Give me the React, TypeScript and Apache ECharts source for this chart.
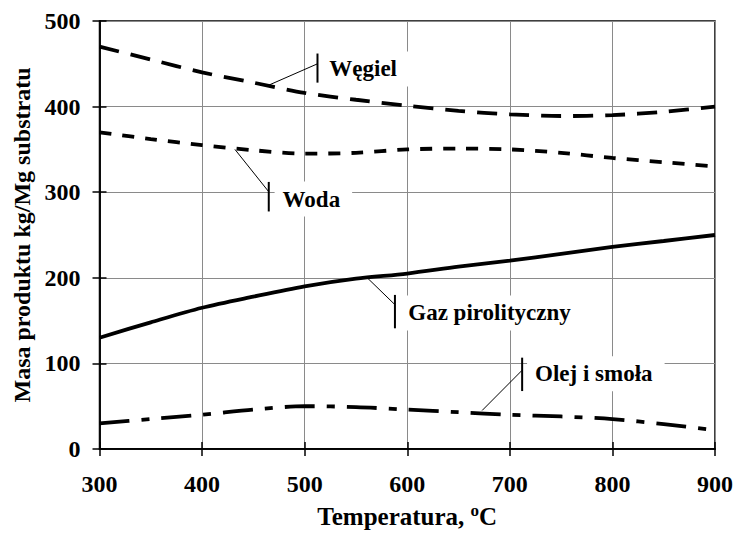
import React, { useEffect, useRef } from "react";
import * as echarts from "echarts";

const temps = [300, 350, 400, 450, 500, 550, 600, 650, 700, 750, 800, 850, 900];
const wegiel = [470, 455, 440, 428, 416, 408, 401, 395, 391, 389, 390, 394, 400];
const woda = [370, 362, 355, 349, 345, 346, 350, 351, 350, 346, 340, 335, 330];
const gaz = [130, 148, 165, 178, 190, 199, 205, 213, 220, 228, 236, 243, 250];
const olej = [30, 35, 40, 46, 50, 49, 46, 43, 40, 38, 35, 29, 22];

const xTicks = [300, 400, 500, 600, 700, 800, 900];
const yTicks = [0, 100, 200, 300, 400, 500];

// annotation anchors in data space
const annotations = [
  { text: "Węgiel", start: [463, 424], end: [512.5, 450], barTop: 462, barBot: 428, textAt: [524, 444] },
  { text: "Woda", start: [432, 350], end: [465, 300.5], barTop: 312, barBot: 277.5, textAt: [478.5, 292] },
  { text: "Gaz pirolityczny", start: [561, 200], end: [588, 168.6], barTop: 180, barBot: 141, textAt: [601, 159] },
  { text: "Olej i smoła", start: [673, 45], end: [712, 92], barTop: 106.7, barBot: 67.7, textAt: [724.6, 88] },
];

const FONT = "'Liberation Serif', 'Times New Roman', serif";

function pairs(ys: number[]) {
  return temps.map((t, i) => [t, ys[i]]);
}

export default function App() {
  const ref = useRef<HTMLDivElement>(null);
  useEffect(() => {
    if (!ref.current) return;
    const chart = echarts.init(ref.current, null, { renderer: "svg" });
    const axisCommon = {
      type: "value" as const,
      axisLine: { show: true, lineStyle: { color: "#000", width: 1.5 } },
      axisTick: { show: true, length: 7, lineStyle: { color: "#000", width: 1.5 } },
    };
    const lineBase = (name: string, data: number[], dash: number[] | "solid") => ({
      type: "line",
      name,
      data: pairs(data),
      smooth: 0.3,
      showSymbol: false,
      symbol: "none",
      lineStyle: { color: "#000", width: 3.8, type: dash, cap: "butt" },
      z: 3,
    });
    chart.setOption({
      animation: false,
      backgroundColor: "#fff",
      grid: { left: 99.5, right: 20, top: 21, bottom: 77, show: true, borderColor: "#000", borderWidth: 1.5, containLabel: false },
      xAxis: [
        {
          ...axisCommon,
          min: 300,
          max: 900,
          interval: 100,
          name: "Temperatura, {sup|o}C",
          nameLocation: "middle",
          nameGap: 53,
          nameTextStyle: {
            fontFamily: FONT,
            fontWeight: "bold",
            fontSize: 25,
            color: "#000",
            rich: { sup: { fontFamily: FONT, fontWeight: "bold", fontSize: 17, verticalAlign: "top", padding: [0, 0, 12, 0], color: "#000" } },
          },
          axisLabel: { fontFamily: FONT, fontWeight: "bold", fontSize: 24, color: "#000", margin: 23 },
          splitLine: { show: true, lineStyle: { color: "#8a8a8a", width: 1 } },
        },
        {
          ...axisCommon,
          min: 300,
          max: 900,
          interval: 100,
          position: "bottom",
          axisTick: { show: true, inside: true, length: 7, lineStyle: { color: "#000", width: 1.5 } },
          axisLabel: { show: false },
          splitLine: { show: false },
        },
      ],
      yAxis: [
        {
          ...axisCommon,
          min: 0,
          max: 500,
          interval: 100,
          name: "Masa produktu kg/Mg substratu",
          nameLocation: "middle",
          nameGap: 66,
          nameTextStyle: { fontFamily: FONT, fontWeight: "bold", fontSize: 24, color: "#000" },
          axisLabel: { fontFamily: FONT, fontWeight: "bold", fontSize: 24, color: "#000", margin: 19 },
          splitLine: { show: true, lineStyle: { color: "#8a8a8a", width: 1 } },
        },
        {
          ...axisCommon,
          min: 0,
          max: 500,
          interval: 100,
          position: "left",
          axisTick: { show: true, inside: true, length: 7, lineStyle: { color: "#000", width: 1.5 } },
          axisLabel: { show: false },
          splitLine: { show: false },
        },
      ],
      series: [
        lineBase("Węgiel", wegiel, [20, 12]),
        lineBase("Woda", woda, [12, 11]),
        lineBase("Gaz pirolityczny", gaz, "solid"),
        lineBase("Olej i smoła", olej, [30, 12, 8, 12]),
      ],
    });

    const px = (p: number[]) => chart.convertToPixel({ gridIndex: 0 }, p) as number[];
    const graphics: any[] = [];
    annotations.forEach((a) => {
      const s = px(a.start);
      const e = px(a.end);
      const bt = px([a.end[0], a.barTop]);
      const bb = px([a.end[0], a.barBot]);
      const tp = px(a.textAt);
      graphics.push({
        type: "text",
        x: tp[0] - 8,
        y: tp[1],
        z: 1,
        style: {
          text: a.text,
          fontFamily: FONT,
          fontWeight: "bold",
          fontSize: 23,
          fill: "#000",
          align: "left",
          verticalAlign: "middle",
          backgroundColor: "#fff",
          padding: [6, 12, 6, 8],
        },
      });
      graphics.push({
        type: "line",
        z: 5,
        shape: { x1: s[0], y1: s[1], x2: e[0], y2: e[1] },
        style: { stroke: "#000", lineWidth: 1 },
      });
      graphics.push({
        type: "line",
        z: 5,
        shape: { x1: bt[0], y1: bt[1], x2: bb[0], y2: bb[1] },
        style: { stroke: "#000", lineWidth: 2 },
      });
    });
    chart.setOption({ graphic: graphics });

    return () => chart.dispose();
  }, []);
  return <div ref={ref} style={{ position: "fixed", left: 0, top: 0, width: 736, height: 534 }} />;
}
